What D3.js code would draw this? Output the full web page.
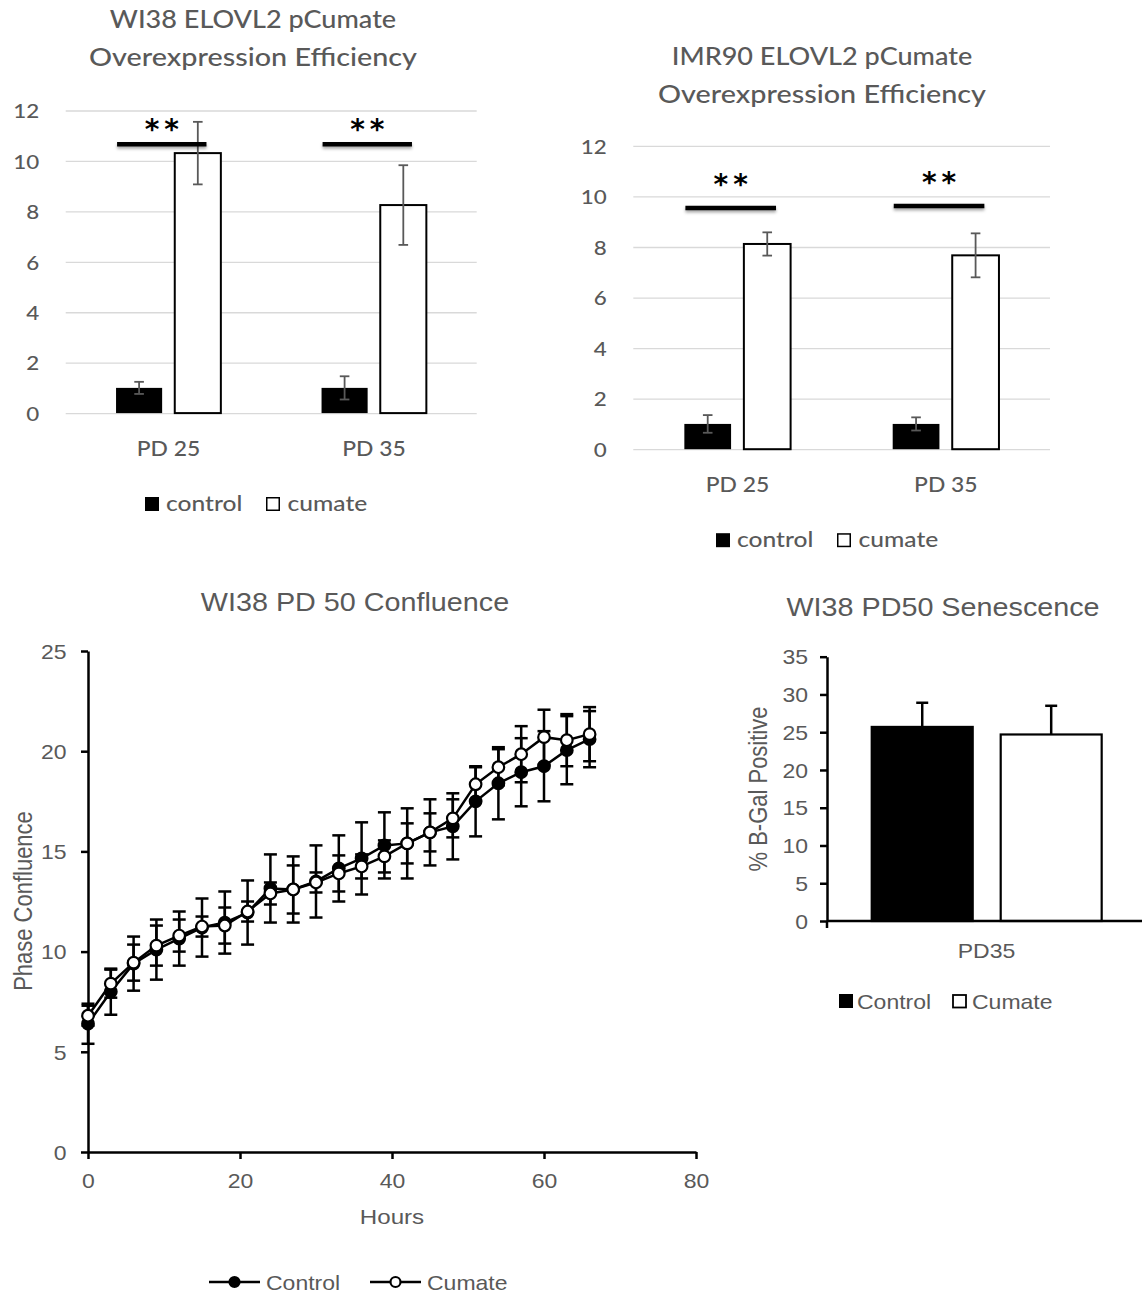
<!DOCTYPE html>
<html>
<head>
<meta charset="utf-8">
<script src="https://cdn.jsdelivr.net/npm/d3@7"></script>
<style>
  body { margin: 0; background: #fff; }
  svg { display: block; }
</style>
</head>
<body>
<svg id="fig" width="1142" height="1297"></svg>
<script>
// ---------------- data ----------------
// ELOVL2 overexpression (fold change) with pCumate induction
const exprCategories = ["PD 25", "PD 35"];
const exprSeries = ["control", "cumate"];
const exprTicks = [0, 2, 4, 6, 8, 10, 12];

const wi38Control = [1.0, 1.0];
const wi38ControlErr = [0.24, 0.46];
const wi38Cumate = [10.31, 8.25];
const wi38CumateErr = [1.24, 1.58];
const wi38SigLevel = [10.66, 10.66];

const imr90Control = [1.0, 1.0];
const imr90ControlErr = [0.35, 0.26];
const imr90Cumate = [8.12, 7.67];
const imr90CumateErr = [0.46, 0.87];
const imr90SigLevel = [9.54, 9.62];

// WI38 PD 50 confluence time course
const hours = [0, 3, 6, 9, 12, 15, 18, 21, 24, 27, 30, 33, 36, 39, 42, 45, 48, 51, 54, 57, 60, 63, 66];
const confControl    = [6.4, 8.0, 9.4, 10.1, 10.65, 11.2, 11.45, 11.95, 13.15, 13.1, 13.5, 14.15, 14.65, 15.3, 15.4, 15.95, 16.25, 17.5, 18.4, 18.95, 19.25, 20.05, 20.6];
const confControlErr = [1.0, 1.15, 1.35, 1.5, 1.35, 1.45, 1.55, 1.6, 1.7, 1.65, 1.8, 1.65, 1.8, 1.65, 1.75, 1.65, 1.65, 1.75, 1.8, 1.7, 1.75, 1.7, 1.4];
const confCumate     = [6.8, 8.4, 9.45, 10.3, 10.8, 11.25, 11.3, 12.0, 12.9, 13.1, 13.45, 13.9, 14.25, 14.75, 15.4, 15.95, 16.65, 18.35, 19.2, 19.85, 20.7, 20.55, 20.85];
const confCumateErr  = [0.5, 0.7, 0.9, 1.0, 0.8, 0.5, 0.9, 0.5, 0.55, 1.2, 0.5, 0.9, 0.6, 0.8, 1.0, 0.95, 0.95, 0.85, 0.9, 1.4, 1.37, 1.3, 1.35];
const hourTicks = [0, 20, 40, 60, 80];
const confTicks = [0, 5, 10, 15, 20, 25];

// WI38 PD50 senescence (% B-Gal positive)
const senCategories = ["PD35"];
const senSeries = ["Control", "Cumate"];
const senValues = [25.7, 24.7];
const senErr = [3.2, 3.8];
const senTicks = [0, 5, 10, 15, 20, 25, 30, 35];

// ---------------- helpers ----------------
const svg = d3.select("#fig");
const GREY = "#595959";
const ARIAL = "'Liberation Sans', Arial, sans-serif";
const CALI = "Lato, 'Open Sans', sans-serif";

function txt(parent, x, y, s, o = {}) {
  const t = parent.append("text")
    .attr("transform", `translate(${x},${y}) scale(${o.sx || 1},1)` + (o.rotate ? ` rotate(${o.rotate})` : ""))
    .attr("text-anchor", o.anchor || "middle")
    .attr("font-family", o.family || ARIAL)
    .attr("font-size", o.size || 20)
    .attr("fill", o.fill || GREY)
    .text(s);
  if (o.weight) t.attr("font-weight", o.weight);
  if (o.ls != null) t.attr("letter-spacing", o.ls);
  return t;
}

// restyle axis tick labels, stretching them horizontally around their anchor
function styleTickText(sel, o) {
  sel.selectAll(".tick text")
    .attr("x", 0).attr("y", 0)
    .attr("dy", o.dy)
    .attr("transform", `translate(${o.dx || 0},${o.ty || 0}) scale(${o.sx},1)`)
    .attr("font-family", o.family)
    .attr("font-size", o.size)
    .attr("font-weight", o.weight || null)
    .attr("fill", GREY);
}

// soft shadow under the significance bars
const defs = svg.append("defs");
const sh = defs.append("filter").attr("id", "sigShadow")
  .attr("filterUnits", "userSpaceOnUse")
  .attr("x", 0).attr("y", 0).attr("width", 1142).attr("height", 1297);
sh.append("feDropShadow").attr("dx", 0).attr("dy", 2.2).attr("stdDeviation", 1.6)
  .attr("flood-color", "#000").attr("flood-opacity", 0.35);

// ---------------- expression bar charts ----------------
function expressionChart(cfg, d) {
  const g = svg.append("g");
  const x = d3.scaleBand().domain(exprCategories).range([cfg.left, cfg.right]);
  const y = d3.scaleLinear().domain([0, 12]).range([cfg.base, cfg.top]);
  const bw = x.bandwidth();
  const sub = d3.scaleBand().domain(exprSeries)
    .range([bw * 0.245, bw * 0.755]).paddingInner(0.215);

  // title (two lines)
  cfg.title.forEach((line, i) =>
    txt(g, cfg.titleX, cfg.titleY[i], line, { size: 25, family: CALI, sx: [1.082, 1.15][i], weight: 500 }));

  // gridlines and value labels
  const ga = g.append("g")
    .attr("transform", `translate(${cfg.left},0)`)
    .call(d3.axisLeft(y).tickValues(exprTicks).tickSize(-(cfg.right - cfg.left)).tickPadding(0));
  ga.select(".domain").remove();
  ga.selectAll(".tick line").attr("stroke", "#d9d9d9").attr("stroke-width", 1.3);
  styleTickText(ga, { dx: -cfg.labelGap, dy: "0.36em", sx: 1.12, family: CALI, size: 20, weight: 500 });

  const rows = exprCategories.map((c, i) => ({
    cat: c,
    vals: [
      { s: "control", v: d.control[i], e: d.controlErr[i] },
      { s: "cumate", v: d.cumate[i], e: d.cumateErr[i] }
    ],
    sig: d.sig[i]
  }));

  const grp = g.selectAll("g.cat").data(rows).join("g")
    .attr("class", "cat")
    .attr("transform", r => `translate(${x(r.cat)},0)`);

  grp.selectAll("rect").data(r => r.vals).join("rect")
    .attr("x", v => sub(v.s))
    .attr("width", sub.bandwidth())
    .attr("y", v => y(v.v))
    .attr("height", v => y(0) - y(v.v))
    .attr("fill", v => v.s === "control" ? "#000" : "#fff")
    .attr("stroke", "#000")
    .attr("stroke-width", v => v.s === "control" ? 0 : 2);

  // error bars
  const eb = grp.selectAll("g.err").data(r => r.vals).join("g").attr("class", "err")
    .attr("stroke", GREY).attr("stroke-width", 1.8);
  const cx = v => sub(v.s) + sub.bandwidth() / 2;
  eb.append("line").attr("x1", cx).attr("x2", cx)
    .attr("y1", v => y(v.v - v.e)).attr("y2", v => y(v.v + v.e));
  [1, -1].forEach(sgn =>
    eb.append("line")
      .attr("x1", v => cx(v) - 4.8).attr("x2", v => cx(v) + 4.8)
      .attr("y1", v => y(v.v + sgn * v.e)).attr("y2", v => y(v.v + sgn * v.e)));

  // significance bars
  grp.append("line")
    .attr("x1", bw * 0.25).attr("x2", bw * 0.685)
    .attr("y1", r => y(r.sig)).attr("y2", r => y(r.sig))
    .attr("stroke", "#000").attr("stroke-width", 4.5)
    .attr("filter", "url(#sigShadow)");
  grp.each(function (r) {
    txt(d3.select(this), bw * 0.4675 + 2.5, y(r.sig) - cfg.starLift, "**",
      { size: 28, family: "'DejaVu Sans', sans-serif", weight: "bold", fill: "#000", ls: 5 });
  });

  // category labels
  rows.forEach(r =>
    txt(g, x(r.cat) + bw / 2, cfg.catY, r.cat, { size: 21, family: CALI, sx: 1.09, weight: 500 }));

  // legend
  const L = cfg.legend;
  g.append("rect").attr("x", L.x1).attr("y", L.y - 14).attr("width", 14).attr("height", 14).attr("fill", "#000");
  txt(g, L.t1, L.y, exprSeries[0], { size: 21, family: CALI, anchor: "start", sx: 1.17, weight: 500 });
  g.append("rect").attr("x", L.x2 + 0.75).attr("y", L.y - 13.25).attr("width", 12.5).attr("height", 12.5)
    .attr("fill", "#fff").attr("stroke", "#000").attr("stroke-width", 1.5);
  txt(g, L.t2, L.y, exprSeries[1], { size: 21, family: CALI, anchor: "start", sx: 1.17, weight: 500 });
}

expressionChart({
  title: ["WI38 ELOVL2 pCumate", "Overexpression Efficiency"],
  titleX: 253, titleY: [27.5, 65.8],
  left: 65.7, right: 476.7, base: 413.1, top: 110.5, labelGap: 26.5,
  catY: 456.4, starLift: 5,
  legend: { x1: 145, t1: 166, x2: 266, t2: 287.5, y: 511 }
}, { control: wi38Control, controlErr: wi38ControlErr, cumate: wi38Cumate, cumateErr: wi38CumateErr, sig: wi38SigLevel });

expressionChart({
  title: ["IMR90 ELOVL2 pCumate", "Overexpression Efficiency"],
  titleX: 822, titleY: [64.8, 102.7],
  left: 633.3, right: 1050, base: 449.2, top: 145.9, labelGap: 26.5,
  catY: 491.5, starLift: 14.3,
  legend: { x1: 716, t1: 737, x2: 837, t2: 858.5, y: 547.2 }
}, { control: imr90Control, controlErr: imr90ControlErr, cumate: imr90Cumate, cumateErr: imr90CumateErr, sig: imr90SigLevel });

// ---------------- confluence line chart ----------------
(function () {
  const g = svg.append("g");
  const sx = 1.15;
  const x = d3.scaleLinear().domain([0, 80]).range([88, 696]);
  const y = d3.scaleLinear().domain([0, 25]).range([1152, 651]);

  txt(g, 355, 611, "WI38 PD 50 Confluence", { size: 25, sx });
  txt(g, 32, 901, "Phase Confluence", { size: 22, sx, rotate: -90 });
  txt(g, 392, 1224, "Hours", { size: 21, sx });

  const gy = g.append("g").attr("transform", `translate(${x(0)},0)`)
    .call(d3.axisLeft(y).tickValues(confTicks).tickSize(7).tickSizeOuter(0).tickPadding(0));
  const gx = g.append("g").attr("transform", `translate(0,${y(0)})`)
    .call(d3.axisBottom(x).tickValues(hourTicks).tickSize(7).tickSizeOuter(0).tickPadding(0));
  [gy, gx].forEach(a => {
    a.select(".domain").attr("stroke", "#000").attr("stroke-width", 2.5);
    a.selectAll(".tick line").attr("stroke", "#000").attr("stroke-width", 2.5);
  });
  styleTickText(gy, { dx: -21.5, dy: "0.36em", sx, family: ARIAL, size: 20 });
  styleTickText(gx, { ty: 29, dy: "0.36em", sx, family: ARIAL, size: 20 });

  const series = [
    { name: "Control", vals: confControl, err: confControlErr, fill: "#000" },
    { name: "Cumate", vals: confCumate, err: confCumateErr, fill: "#fff" }
  ].map(s => ({ ...s, pts: hours.map((h, i) => ({ h, v: s.vals[i], e: s.err[i] })) }));

  // error bars
  series.forEach(s => {
    const eg = g.append("g").attr("stroke", "#000").attr("stroke-width", 2.5);
    s.pts.forEach(p => {
      const px = x(p.h);
      eg.append("line").attr("x1", px).attr("x2", px).attr("y1", y(p.v - p.e)).attr("y2", y(p.v + p.e));
      [1, -1].forEach(sgn =>
        eg.append("line").attr("x1", px - 6.5).attr("x2", px + 6.5)
          .attr("y1", y(p.v + sgn * p.e)).attr("y2", y(p.v + sgn * p.e)));
    });
  });

  const line = d3.line().x(p => x(p.h)).y(p => y(p.v));
  series.forEach(s => {
    g.append("path").datum(s.pts).attr("d", line)
      .attr("fill", "none").attr("stroke", "#000").attr("stroke-width", 2.5);
    g.append("g").selectAll("circle").data(s.pts).join("circle")
      .attr("cx", p => x(p.h)).attr("cy", p => y(p.v)).attr("r", 5.8)
      .attr("fill", s.fill).attr("stroke", "#000").attr("stroke-width", 2.2);
  });

  // legend
  const ly = 1282;
  [{ s: series[0], x0: 209, tx: 266 }, { s: series[1], x0: 370, tx: 427 }].forEach(L => {
    g.append("line").attr("x1", L.x0).attr("x2", L.x0 + 51).attr("y1", ly).attr("y2", ly)
      .attr("stroke", "#000").attr("stroke-width", 2.5);
    g.append("circle").attr("cx", L.x0 + 25.5).attr("cy", ly).attr("r", 5)
      .attr("fill", L.s.fill).attr("stroke", "#000").attr("stroke-width", 2.2);
    txt(g, L.tx, ly + 7.5, L.s.name, { size: 20, sx, anchor: "start" });
  });
})();

// ---------------- senescence bar chart ----------------
(function () {
  const g = svg.append("g");
  const sx = 1.15;
  const x = d3.scaleBand().domain(senCategories).range([827, 1142]);
  const bw = x.bandwidth();
  const sub = d3.scaleBand().domain(senSeries).range([bw * 0.142, bw * 0.872]).paddingInner(0.217);
  const y = d3.scaleLinear().domain([0, 35]).range([921, 656.7]);

  txt(g, 943, 616, "WI38 PD50 Senescence", { size: 25, sx });
  txt(g, 767, 789, "% B-Gal Positive", { size: 22, sx, rotate: -90 });

  const rows = senSeries.map((s, i) => ({ s, v: senValues[i], e: senErr[i] }));
  const cat = senCategories[0];
  const bars = g.append("g").attr("transform", `translate(${x(cat)},0)`);
  bars.selectAll("rect").data(rows).join("rect")
    .attr("x", r => sub(r.s)).attr("width", sub.bandwidth())
    .attr("y", r => y(r.v)).attr("height", r => y(0) - y(r.v))
    .attr("fill", (r, i) => i === 0 ? "#000" : "#fff")
    .attr("stroke", "#000").attr("stroke-width", 2.2);
  const cxs = r => sub(r.s) + sub.bandwidth() / 2;
  bars.selectAll("line.e").data(rows).join("line").attr("class", "e")
    .attr("x1", cxs).attr("x2", cxs).attr("y1", r => y(r.v)).attr("y2", r => y(r.v + r.e))
    .attr("stroke", "#000").attr("stroke-width", 2.5);
  bars.selectAll("line.c").data(rows).join("line").attr("class", "c")
    .attr("x1", r => cxs(r) - 6).attr("x2", r => cxs(r) + 6)
    .attr("y1", r => y(r.v + r.e)).attr("y2", r => y(r.v + r.e))
    .attr("stroke", "#000").attr("stroke-width", 2.5);

  const gy = g.append("g").attr("transform", "translate(827,0)")
    .call(d3.axisLeft(y).tickValues(senTicks).tickSize(7).tickSizeOuter(0).tickPadding(0));
  gy.select(".domain").attr("stroke", "#000").attr("stroke-width", 2.5);
  gy.selectAll(".tick line").attr("stroke", "#000").attr("stroke-width", 2.5);
  styleTickText(gy, { dx: -19, dy: "0.36em", sx, family: ARIAL, size: 20 });

  // category axis
  g.append("line").attr("x1", 827).attr("x2", 1142).attr("y1", y(0)).attr("y2", y(0))
    .attr("stroke", "#000").attr("stroke-width", 2.5);
  g.append("line").attr("x1", 827).attr("x2", 827).attr("y1", y(0)).attr("y2", y(0) + 7)
    .attr("stroke", "#000").attr("stroke-width", 2.5);
  txt(g, x(cat) + bw / 2 + 2, 958, cat, { size: 20, sx });

  // legend
  g.append("rect").attr("x", 839).attr("y", 994).attr("width", 14).attr("height", 14).attr("fill", "#000");
  txt(g, 857, 1008.5, senSeries[0], { size: 20, sx, anchor: "start" });
  g.append("rect").attr("x", 953).attr("y", 995).attr("width", 13).attr("height", 12.5)
    .attr("fill", "#fff").attr("stroke", "#000").attr("stroke-width", 1.8);
  txt(g, 972, 1008.5, senSeries[1], { size: 20, sx, anchor: "start" });
})();
</script>
</body>
</html>
